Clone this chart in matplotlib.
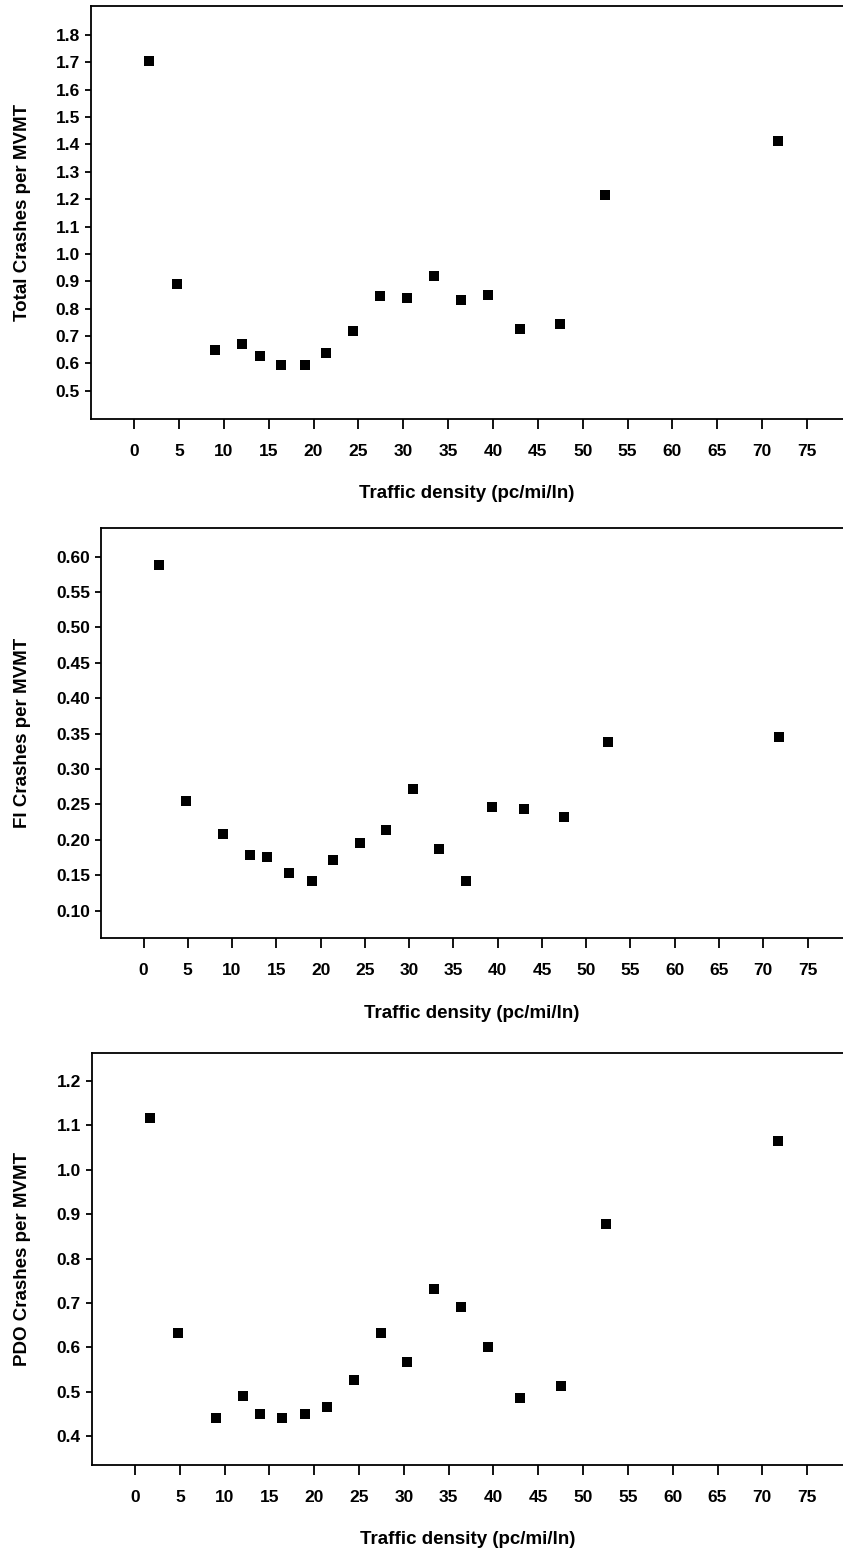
import matplotlib
matplotlib.use("Agg")
import matplotlib.pyplot as plt
import numpy as np

plt.rcParams['font.family'] = ['Liberation Sans', 'DejaVu Sans']
plt.rcParams['font.weight'] = 'bold'

density = [1.7, 4.8, 9.0, 12.0, 14.0, 16.4, 19.0, 21.4, 24.4, 27.4,
           30.4, 33.4, 36.4, 39.4, 43.0, 47.5, 52.5, 71.8]
total_rate = [1.705, 0.889, 0.650, 0.671, 0.627, 0.594, 0.593, 0.638, 0.718, 0.846,
              0.838, 0.919, 0.833, 0.848, 0.724, 0.743, 1.216, 1.413]
fi_rate = [0.588, 0.255, 0.209, 0.178, 0.176, 0.153, 0.142, 0.172, 0.195, 0.214,
           0.272, 0.187, 0.142, 0.246, 0.243, 0.233, 0.338, 0.346]
pdo_rate = [1.117, 0.633, 0.441, 0.491, 0.450, 0.441, 0.450, 0.465, 0.527, 0.633,
            0.567, 0.732, 0.692, 0.602, 0.485, 0.512, 0.879, 1.066]

x_ticks = list(range(0, 80, 5))
total_ticks = [0.5, 0.6, 0.7, 0.8, 0.9, 1.0, 1.1, 1.2, 1.3, 1.4, 1.5, 1.6, 1.7, 1.8]
fi_ticks = [0.10, 0.15, 0.20, 0.25, 0.30, 0.35, 0.40, 0.45, 0.50, 0.55, 0.60]
pdo_ticks = [0.4, 0.5, 0.6, 0.7, 0.8, 0.9, 1.0, 1.1, 1.2]

xlabel = "Traffic density (pc/mi/ln)"
ylabels = ["Total Crashes per MVMT", "FI Crashes per MVMT", "PDO Crashes per MVMT"]

W, H = 843, 1552
fig = plt.figure(figsize=(W / 100, H / 100), dpi=100)


def rect(l, t, r, b):
    return [l / W, 1 - b / H, (r - l) / W, (b - t) / H]


panels = [
    (rect(91, 6.5, 843, 419), total_rate, total_ticks, (0.3966, 1.904), "{:.1f}", ylabels[0]),
    (rect(101, 528, 843, 938.3), fi_rate, fi_ticks, (0.061, 0.6405), "{:.2f}", ylabels[1]),
    (rect(92, 1052.7, 843, 1465), pdo_rate, pdo_ticks, (0.335, 1.264), "{:.1f}", ylabels[2]),
]

for r, vals, yt, ylim, fmt, ylab in panels:
    ax = fig.add_axes(r)
    ax.scatter(density, vals, marker='s', s=55, color='black', linewidths=0, zorder=3)
    ax.set_xlim(-4.8, 79.0)
    ax.set_ylim(*ylim)
    ax.set_xticks(x_ticks)
    ax.set_xticklabels([str(v) for v in x_ticks])
    ax.set_yticks(yt)
    ax.set_yticklabels([fmt.format(v) for v in yt])
    ax.spines['right'].set_visible(False)
    for s in ['left', 'bottom', 'top']:
        ax.spines[s].set_linewidth(1.3)
        ax.spines[s].set_color('black')
    ax.tick_params(axis='x', direction='out', length=7.5, width=1.3, pad=10.5,
                   labelsize=12.5)
    ax.tick_params(axis='y', direction='out', length=4.5, width=1.3, pad=3.5,
                   labelsize=12.5)
    for lab in ax.get_xticklabels() + ax.get_yticklabels():
        lab.set_fontweight('bold')
    ax.set_xlabel(xlabel, fontsize=13.5, fontweight='bold', labelpad=19)
    ax.set_ylabel(ylab, fontsize=13.5, fontweight='bold')
    left_px = r[0] * W
    width_px = r[2] * W
    ax.yaxis.set_label_coords((31 - left_px) / width_px, 0.5)

fig.savefig("out.png", dpi=100, facecolor='white')
